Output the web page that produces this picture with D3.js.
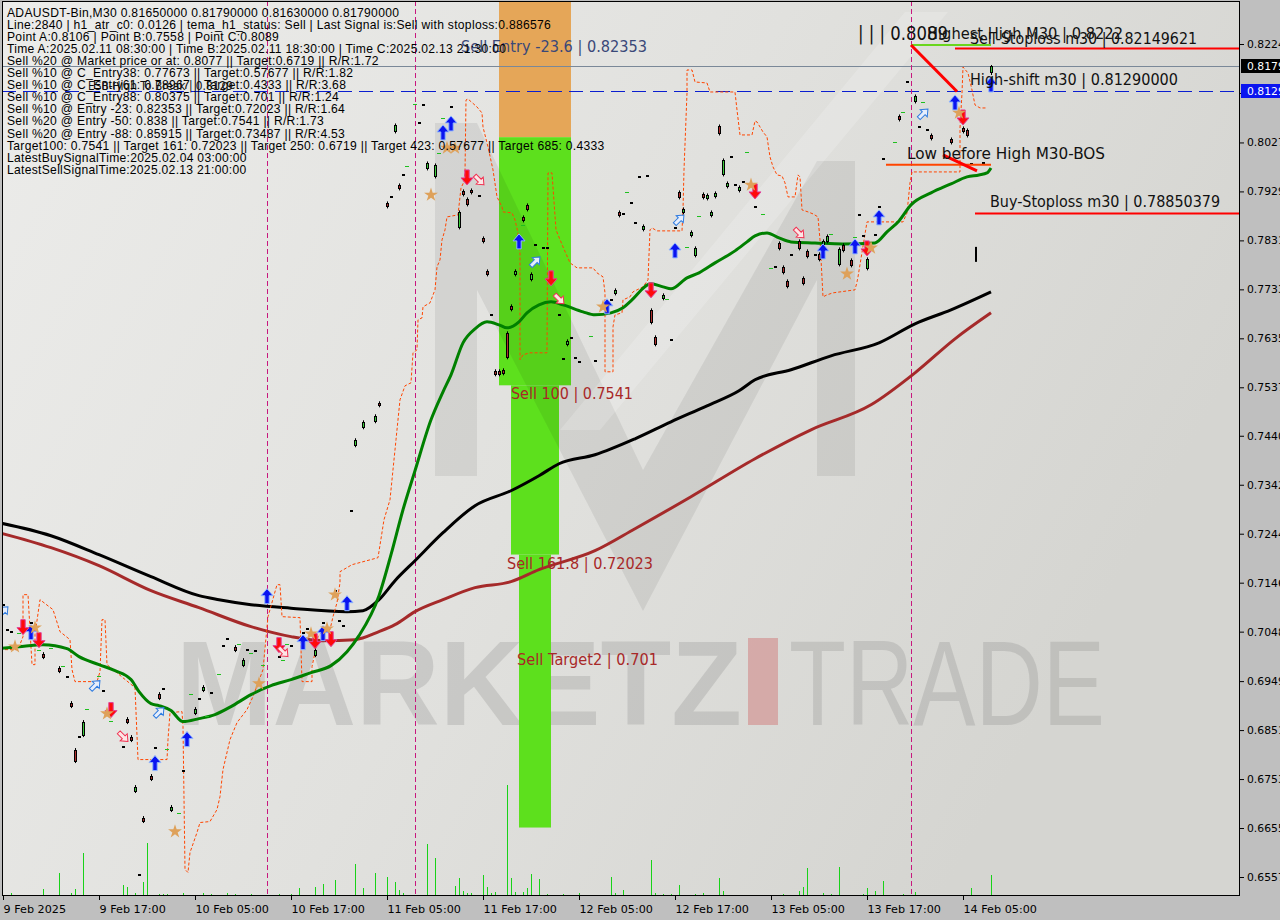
<!DOCTYPE html>
<html><head><meta charset="utf-8">
<script src="https://cdn.jsdelivr.net/npm/d3@7"></script>
<style>body{margin:0;background:#bfbfbf;overflow:hidden}svg{display:block}</style>
</head><body><svg id="c" width="1280" height="920"></svg>
<script>
// ---------------- DATA ----------------
const headerLines = [
 "ADAUSDT-Bin,M30  0.81650000 0.81790000 0.81630000 0.81790000",
 "Line:2840 | h1_atr_c0: 0.0126 | tema_h1_status: Sell | Last Signal is:Sell with stoploss:0.886576",
 "Point A:0.8106 | Point B:0.7558 | Point C:0.8089",
 "Time A:2025.02.11 08:30:00 | Time B:2025.02.11 18:30:00 | Time C:2025.02.13 21:30:00",
 "Sell %20 @ Market price or at: 0.8077 || Target:0.6719 || R/R:1.72",
 "Sell %10 @ C_Entry38: 0.77673 || Target:0.57677 || R/R:1.82",
 "Sell %10 @ C_Entry61: 0.78967 || Target:0.4333 || R/R:3.68",
 "Sell %10 @ C_Entry88: 0.80375 || Target:0.701 || R/R:1.24",
 "Sell %10 @ Entry -23: 0.82353 || Target:0.72023 || R/R:1.64",
 "Sell %20 @ Entry -50: 0.838 || Target:0.7541 || R/R:1.73",
 "Sell %20 @ Entry -88: 0.85915 || Target:0.73487 || R/R:4.53",
 "Target100: 0.7541 || Target 161: 0.72023 || Target 250: 0.6719 || Target 423: 0.57677 || Target 685: 0.4333",
 "LatestBuySignalTime:2025.02.04 03:00:00",
 "LatestSellSignalTime:2025.02.13 21:00:00"
];
const priceTicks = [0.8224,0.8126,0.8027,0.7929,0.7831,0.7733,0.7635,0.7537,0.7440,0.7342,0.7244,0.7146,0.7048,0.6949,0.6851,0.6753,0.6655,0.6557];
const timeTickBars = [0,24,48,72,96,120,144,168,192,216,240];
const timeTickLabels = ["9 Feb 2025","9 Feb 17:00","10 Feb 05:00","10 Feb 17:00","11 Feb 05:00","11 Feb 17:00","12 Feb 05:00","12 Feb 17:00","13 Feb 05:00","13 Feb 17:00","14 Feb 05:00"];

// candles (bar index = 30-min bars since 9 Feb 05:00)
const candleBar = [0,1,2,7,10,14,16,17,18,19,20,25,30,31,32,33,34,35,37,38,39,40,42,45,48,49,50,52,55,56,58,60,61,63,69,72,75,76,78,80,83,84,85,87,88,90,93,94,96,97,98,99,100,104,105,106,108,112,114,115,116,117,119,120,121,122,123,124,125,126,127,128,130,131,132,133,135,136,139,140,141,142,143,144,148,152,153,154,155,157,158,159,160,161,162,163,165,167,168,169,170,172,173,175,176,177,178,179,180,181,182,183,184,185,188,193,194,195,196,197,199,200,201,203,204,205,206,209,210,212,214,215,216,218,219,220,224,226,228,229,231,232,237,240,241,242,245,247];
const candleOpen = [0.7104,0.7054,0.7050,0.7068,0.7004,0.6976,0.6960,0.6906,0.6812,0.6840,0.6840,0.6932,0.6820,0.6874,0.6838,0.6728,0.6564,0.6676,0.6760,0.6818,0.6924,0.6936,0.6690,0.6772,0.6884,0.6916,0.6930,0.6928,0.7022,0.7036,0.7018,0.6980,0.7014,0.7012,0.7000,0.7022,0.7048,0.7056,0.7000,0.7068,0.7132,0.7072,0.7062,0.7292,0.7420,0.7456,0.7468,0.7506,0.7906,0.7920,0.8048,0.7942,0.7964,0.8068,0.8104,0.7974,0.7958,0.8100,0.7856,0.7930,0.7914,0.7932,0.7922,0.7836,0.7770,0.7684,0.7570,0.7570,0.7572,0.7646,0.7700,0.7762,0.7878,0.7902,0.7752,0.7824,0.7818,0.7818,0.7684,0.7596,0.7622,0.7638,0.7598,0.7590,0.7592,0.7714,0.7724,0.7888,0.7886,0.7908,0.7868,0.7960,0.7852,0.7962,0.7692,0.7638,0.7714,0.7634,0.7858,0.7928,0.7886,0.7840,0.7800,0.7924,0.7914,0.7880,0.7918,0.8060,0.7962,0.7938,0.8000,0.7944,0.7930,0.7950,0.7900,0.7780,0.7826,0.7778,0.7750,0.7804,0.7830,0.7756,0.7810,0.7804,0.7804,0.7822,0.7828,0.7782,0.7822,0.7792,0.7884,0.7842,0.7774,0.7844,0.7900,0.7996,0.8080,0.8150,0.8108,0.8060,0.8054,0.8042,0.8034,0.8056,0.8052,0.7986,0.7988,0.8165];
const candleClose = [0.7100,0.7050,0.7046,0.7064,0.6996,0.6968,0.6956,0.6898,0.6788,0.6836,0.6868,0.6928,0.6816,0.6866,0.6830,0.6738,0.6560,0.6668,0.6752,0.6814,0.6914,0.6932,0.6698,0.6768,0.6894,0.6912,0.6938,0.6924,0.7018,0.7032,0.7010,0.6992,0.7010,0.7008,0.6996,0.7018,0.7044,0.7052,0.7012,0.7064,0.7128,0.7068,0.7058,0.7288,0.7432,0.7468,0.7480,0.7500,0.7898,0.7916,0.8062,0.7934,0.7960,0.8064,0.8100,0.7986,0.7982,0.8096,0.7888,0.7922,0.7902,0.7926,0.7918,0.7828,0.7762,0.7680,0.7562,0.7562,0.7564,0.7596,0.7692,0.7770,0.7870,0.7892,0.7764,0.7820,0.7814,0.7814,0.7680,0.7592,0.7630,0.7634,0.7594,0.7586,0.7588,0.7710,0.7732,0.7880,0.7882,0.7904,0.7864,0.7956,0.7860,0.7958,0.7666,0.7622,0.7722,0.7630,0.7854,0.7916,0.7894,0.7848,0.7816,0.7916,0.7922,0.7888,0.7926,0.8044,0.7992,0.7946,0.7996,0.7940,0.7938,0.7946,0.7896,0.7776,0.7814,0.7766,0.7738,0.7800,0.7814,0.7744,0.7798,0.7800,0.7792,0.7830,0.7840,0.7814,0.7810,0.7780,0.7880,0.7838,0.7794,0.7840,0.7896,0.7992,0.8072,0.8146,0.8120,0.8056,0.8050,0.8034,0.8026,0.8048,0.8040,0.7982,0.7984,0.8179];
const spikeBar = [243], spikeHigh = [0.7818], spikeLow = [0.7788];

// volumes
const volBar = [2,10,14,17,18,20,22,30,31,33,35,36,39,40,41,45,50,52,56,58,62,69,72,74,78,80,83,88,90,93,96,98,99,100,106,108,113,114,115,116,117,120,121,122,123,126,127,128,130,131,132,134,136,140,144,152,153,155,162,163,165,167,169,173,175,179,180,191,195,199,200,201,205,207,209,215,216,218,220,223,225,228,232,242,247];
const volValue = [27,70,230,33,70,430,15,110,90,30,140,530,20,20,20,30,30,20,30,20,20,20,20,83,93,120,160,320,83,227,193,143,60,33,520,380,100,177,53,33,33,210,87,33,40,1110,177,40,40,77,220,167,20,20,33,193,33,60,360,33,20,20,110,20,33,177,47,10,20,47,90,280,33,20,293,20,80,50,150,13,20,40,10,80,210];

// moving averages
const blackBar = [-1,12,24,37,49,54,62,72,86,90,94,98,103,110,118,127,134,139,148,158,167,176,184,188,197,207,219,228,237,247];
const blackVal = [0.7266,0.7240,0.7202,0.7158,0.7120,0.7112,0.7102,0.7095,0.7088,0.7090,0.7112,0.7150,0.7190,0.7246,0.7300,0.7330,0.7360,0.7384,0.7402,0.7434,0.7468,0.7500,0.7530,0.7552,0.7572,0.7600,0.7626,0.7664,0.7692,0.7728];
const redBar = [-1,12,24,37,49,62,72,80,88,94,98,103,110,118,127,134,148,158,172,188,202,217,228,238,247];
const redVal = [0.7246,0.7216,0.7180,0.7130,0.7096,0.7058,0.7038,0.7030,0.7032,0.7048,0.7062,0.7088,0.7112,0.7136,0.7148,0.7172,0.7210,0.7254,0.7318,0.7394,0.7452,0.7502,0.7566,0.7634,0.7686];
const greenBar = [-1,4,10,16,19,24,28,32,34,37,39,42,45,49,53,57,62,67,72,77,82,86,89,94,97,100,103,107,110,112,115,118,121,124,126,129,131,134,137,140,145,148,152,155,157,162,165,167,171,174,178,183,186,188,191,194,197,203,210,218,221,224,227,232,237,241,244,246,247];
const greenVal = [0.7014,0.7018,0.7022,0.7014,0.6998,0.6982,0.6970,0.6952,0.6928,0.6904,0.6900,0.6890,0.6868,0.6874,0.6882,0.6898,0.6922,0.6940,0.6952,0.6966,0.6980,0.7008,0.7040,0.7120,0.7202,0.7292,0.7370,0.7472,0.7528,0.7562,0.7626,0.7654,0.7668,0.7662,0.7656,0.7668,0.7686,0.7702,0.7708,0.7702,0.7688,0.7682,0.7686,0.7696,0.7710,0.7744,0.7738,0.7734,0.7756,0.7766,0.7786,0.7810,0.7828,0.7840,0.7846,0.7836,0.7828,0.7826,0.7824,0.7826,0.7848,0.7870,0.7902,0.7926,0.7944,0.7958,0.7962,0.7966,0.7976];

// trailing (orange dashed) line
const orBar = [-0.75,3.75,5,5,6.25,7.25,8,8,9.25,12.5,14.25,16.75,17.25,18,23.5,24.25,24.75,25.5,26,33,33.75,41,41.25,41.75,44.75,45,45.5,46.25,46.75,48.5,49.25,51.75,53.5,54.25,55,56.75,58.5,61,62.5,65,66.25,68.5,69.25,69.75,74.25,74.75,77.25,77.25,78,78.75,79.75,81.75,82.5,83.5,84.25,84.25,87.25,93.75,95.25,96.75,98.25,99.25,100.5,102,102.5,103.5,103.75,104.75,105,106.75,108,108.5,109.25,109.75,110.5,111,113.75,114.5,115,115.5,115.75,116.25,118.5,119.75,120,121.25,122.5,123.5,124.75,125,127.25,128,128.75,129.25,129.25,130,131.75,136,136.25,137.25,138.25,140,141.75,143.5,147.5,148.5,150,150.5,150.5,152.5,152.5,153,154.75,155,156.75,157.5,160,161.25,161.75,162.25,163.5,169.75,170,170.25,171,171,172.25,173,176,176.75,183,183.5,184.25,187.25,188,188.5,190,191,191.75,192.5,193.5,194.75,195.5,196.25,198,198.75,199.25,199.75,201.25,202.5,203.75,204.25,205,206,207.5,213,213.5,213.75,216,225,226,226.75,227.25,239.25,239.25,239.75,240,241.25,242.25,243,244.25,246];
const orVal = [0.7012,0.7012,0.7038,0.7122,0.7122,0.6982,0.6982,0.7042,0.7112,0.7092,0.7048,0.7032,0.6972,0.6948,0.6948,0.6968,0.7072,0.7072,0.6982,0.6936,0.6792,0.6792,0.6832,0.6886,0.6888,0.6858,0.6572,0.6566,0.6606,0.6646,0.6666,0.6668,0.6692,0.6718,0.6772,0.6832,0.6866,0.6892,0.6918,0.6972,0.7078,0.7142,0.7142,0.7078,0.7076,0.6948,0.6948,0.6978,0.7006,0.7038,0.7048,0.7052,0.7078,0.7106,0.7146,0.7168,0.7182,0.7196,0.7272,0.7312,0.7432,0.7512,0.7540,0.7546,0.7606,0.7612,0.7672,0.7676,0.7698,0.7706,0.7732,0.7778,0.7792,0.7832,0.7852,0.7878,0.7882,0.7936,0.7944,0.7966,0.8112,0.8114,0.8098,0.8086,0.8058,0.8018,0.7972,0.7918,0.7898,0.7888,0.7886,0.7872,0.7846,0.7806,0.7592,0.7602,0.7606,0.7606,0.7966,0.7966,0.7852,0.7818,0.7786,0.7776,0.7776,0.7766,0.7758,0.7726,0.7568,0.7568,0.7658,0.7682,0.7686,0.7712,0.7718,0.7728,0.7738,0.7752,0.7852,0.7856,0.7850,0.7850,0.7892,0.7972,0.8126,0.8172,0.8172,0.8148,0.8146,0.8128,0.8128,0.8092,0.8042,0.8042,0.8070,0.8068,0.8048,0.8038,0.7998,0.7978,0.7962,0.7960,0.7946,0.7918,0.7918,0.7962,0.7958,0.7892,0.7888,0.7884,0.7878,0.7832,0.7718,0.7722,0.7726,0.7732,0.7748,0.7758,0.7868,0.7868,0.7886,0.7946,0.7968,0.7968,0.8056,0.8126,0.8178,0.8166,0.8132,0.8102,0.8096,0.8096];

// signal markers
const blueUpBar = [7,38,46,66,75,80,86,110,112,129,151,168,205,213,219,238,247];
const blueUpPrice = [0.7046,0.6784,0.6832,0.7118,0.7026,0.7044,0.7104,0.8046,0.8064,0.7828,0.7698,0.7810,0.7808,0.7818,0.7876,0.8106,0.8142];
const redDnBar = [5,9,27,69,78,82,116,137,162,188,216,240];
const redDnPrice = [0.7058,0.7032,0.6892,0.7022,0.7030,0.7034,0.7958,0.7756,0.7732,0.7930,0.7816,0.8078];
const hollowUpBar = [0,23,39,133,169,230];
const hollowUpPrice = [0.7088,0.6940,0.6886,0.7788,0.7872,0.8084];
const hollowDnBar = [30,70,119,139,199];
const hollowDnPrice = [0.6838,0.7008,0.7952,0.7714,0.7846];
const starBar = [3,8,26,43,64,77,81,83,107,111,113,150,187,211,217,239];
const starPrice = [0.7018,0.7056,0.6884,0.6648,0.6944,0.7044,0.7054,0.7122,0.7922,0.8016,0.8016,0.7698,0.7942,0.7764,0.7816,0.8086];
const tickBar = [4,9,12,15,21,24,27,47,51,54,59,62,65,71,70,41,44,103,110,101,109,147,156,130,186,190,174,171,207,213,192,166,230,225,223];
const tickPrice = [0.7046,0.7012,0.7016,0.6980,0.6894,0.6960,0.6870,0.6924,0.6880,0.6964,0.7024,0.7006,0.6982,0.7024,0.6992,0.6814,0.6686,0.8104,0.8076,0.7980,0.8006,0.7640,0.7928,0.7862,0.8008,0.7884,0.7880,0.7818,0.7844,0.7838,0.7776,0.7714,0.8108,0.8088,0.8028];

// target zones
const zoneBar0 = [124,124,127,129];
const zoneBar1 = [142,142,139,137];
const zoneHigh = [0.838,0.80375,0.7541,0.72023];
const zoneLow  = [0.80375,0.7541,0.72023,0.6656];
const zoneColor = ["#e5a658","#5de01d","#5de01d","#5de01d"];
const zoneText = ["Sell Entry -23.6 | 0.82353","Sell 100 | 0.7541","Sell 161.8 | 0.72023","Sell Target2 | 0.701"];
const zoneTextBar = [114.5,127,126,128.5];
const zoneTextPrice = [0.82353,0.7541,0.72023,0.701];
const zoneTextColor = ["#3a4878","#a82828","#a82828","#a82828"];
const zoneTextLen = [186,122,146,141];

// levels / structure
const currentPrice = 0.8179, esbPrice = 0.8129;
const vlineBars = [66,103,227];
const highestHigh = 0.8222, lowBeforeHigh = 0.79825;
const sellStop = 0.82149621, buyStop = 0.78850379;
const zigBar = [227,238.5], zigPrice = [0.8222,0.8129];
const zig2Bar = [235,243.5], zig2Price = [0.8002,0.7970];

// ---------------- CHART ----------------
const W = 1280, H = 920, L = 2, T = 1, R = 1240, B = 896;
const t0 = Date.UTC(2025,1,9,5,0);
const barTime = b => new Date(t0 + b*1800000);
const x = d3.scaleUtc().domain([barTime(0), barTime(309.25)]).range([3, R]);
const X = b => x(barTime(b));
const y = d3.scaleLinear().domain([0.6557, 0.8224]).range([877, 44]);
const vy = d3.scaleLinear().domain([0, 1000]).range([B, B - 100]);
const FONT = "DejaVu Sans, Verdana, sans-serif";
const HFONT = "Liberation Sans, Arial, sans-serif";

const svg = d3.select("#c");
const defs = svg.append("defs");
const g1 = defs.append("linearGradient").attr("id","bg").attr("x1",0).attr("y1",0).attr("x2",1).attr("y2",0.4);
g1.append("stop").attr("offset",0).attr("stop-color","#ececea");
g1.append("stop").attr("offset",0.55).attr("stop-color","#e1e1de");
g1.append("stop").attr("offset",1).attr("stop-color","#d5d5d1");
defs.append("clipPath").attr("id","clip").append("rect").attr("x",L).attr("y",T).attr("width",R-L).attr("height",B-T);

svg.append("rect").attr("width",W).attr("height",H).attr("fill","#bfbfbf");
svg.append("rect").attr("x",L).attr("y",T).attr("width",R-L).attr("height",B-T).attr("fill","url(#bg)");
const plot = svg.append("g").attr("clip-path","url(#clip)");

// watermark text
plot.append("text").attr("x",176).attr("y",725).attr("font-family","Liberation Sans, Arial").attr("font-weight","bold")
  .attr("font-size",121).attr("textLength",566).attr("lengthAdjust","spacingAndGlyphs").attr("fill","#6e6e6e").attr("opacity",0.2).text("MARKETZ");
plot.append("rect").attr("x",748).attr("y",638).attr("width",30).attr("height",87).attr("fill","#d07a7a").attr("opacity",0.5);
plot.append("text").attr("x",789).attr("y",725).attr("font-family","Liberation Sans, Arial")
  .attr("font-size",121).attr("textLength",316).attr("lengthAdjust","spacingAndGlyphs").attr("fill","#6e6e6e").attr("opacity",0.2).text("TRADE");

// volumes
plot.append("g").attr("shape-rendering","crispEdges").selectAll("rect").data(volBar).join("rect")
  .attr("x",(d)=>Math.round(X(d))).attr("width",1)
  .attr("y",(d,i)=>Math.round(vy(volValue[i]))).attr("height",(d,i)=>B-Math.round(vy(volValue[i])))
  .attr("fill","#19d219");

// zones
plot.append("g").selectAll("rect").data(zoneBar0).join("rect")
  .attr("x",(d)=>X(d)).attr("width",(d,i)=>X(zoneBar1[i])-X(d))
  .attr("y",(d,i)=>y(zoneHigh[i])).attr("height",(d,i)=>y(zoneLow[i])-y(zoneHigh[i]))
  .attr("fill",(d,i)=>zoneColor[i]);

// logo overlay (watermark M)
plot.append("path").attr("d","M435,476 L435,123 L477,123 L643,470 L817,161 L855,161 L855,476 L817,476 L817,280 L643,611 L477,290 L477,476 Z")
  .attr("fill","#000").attr("opacity",0.07);
plot.append("path").attr("d","M905,12 L948,12 L600,430 L560,430 Z").attr("fill","#fff").attr("opacity",0.18);

// horizontal price lines
plot.append("line").attr("x1",L).attr("x2",R).attr("y1",Math.round(y(currentPrice))+0.5).attr("y2",Math.round(y(currentPrice))+0.5).attr("stroke","#7a8898").attr("stroke-width",1);
plot.append("line").attr("x1",L).attr("x2",R).attr("y1",Math.round(y(esbPrice))+0.5).attr("y2",Math.round(y(esbPrice))+0.5).attr("stroke","#0a1ed0").attr("stroke-width",1.2).attr("stroke-dasharray","14,7");

// vertical dashed time lines
plot.append("g").selectAll("line").data(vlineBars).join("line")
  .attr("x1",d=>Math.round(X(d))+0.5).attr("x2",d=>Math.round(X(d))+0.5).attr("y1",T).attr("y2",B)
  .attr("stroke","#c8177e").attr("stroke-width",1).attr("stroke-dasharray","5,3");

// lines
const lineGen = d3.line().x(d=>X(d[0])).y(d=>y(d[1])).curve(d3.curveMonotoneX);
const zip = (a,b)=>a.map((v,i)=>[v,b[i]]);
plot.append("path").datum(zip(redBar,redVal)).attr("d",lineGen).attr("fill","none").attr("stroke","#a52a2a").attr("stroke-width",3);
plot.append("path").datum(zip(blackBar,blackVal)).attr("d",lineGen).attr("fill","none").attr("stroke","#000").attr("stroke-width",3);
plot.append("path").datum(zip(orBar,orVal)).attr("d",d3.line().x(d=>X(d[0])).y(d=>y(d[1]))).attr("fill","none").attr("stroke","#ff4500").attr("stroke-width",1).attr("stroke-dasharray","3,2");
plot.append("path").datum(zip(greenBar,greenVal)).attr("d",lineGen).attr("fill","none").attr("stroke","#008000").attr("stroke-width",3);

// small green ticks
plot.append("g").selectAll("rect").data(tickBar).join("rect")
  .attr("x",d=>Math.round(X(d))-2).attr("y",(d,i)=>Math.round(y(tickPrice[i]))).attr("width",4).attr("height",1).attr("fill","#1fc01f");

// candles
const cg = plot.append("g");
candleBar.forEach((b,i)=>{
  const cx = Math.round(X(b));
  const o = candleOpen[i], c = candleClose[i];
  const yt = y(Math.max(o,c)), yb = y(Math.min(o,c));
  if (yb - yt < 2.6) {
    cg.append("rect").attr("x",cx-1).attr("y",Math.round(yt)).attr("width",3).attr("height",2).attr("fill","#000");
  } else {
    cg.append("line").attr("x1",cx+0.5).attr("x2",cx+0.5).attr("y1",yt-1.5).attr("y2",yb+1.5).attr("stroke","#000");
    cg.append("rect").attr("x",cx-0.5).attr("y",Math.round(yt)+0.5).attr("width",2).attr("height",Math.max(1,Math.round(yb-yt)-1))
      .attr("fill",c>o?"#3ccc3c":"#b03030").attr("stroke","#000").attr("stroke-width",1);
  }
});
spikeBar.forEach((b,i)=>{
  cg.append("rect").attr("x",Math.round(X(b))).attr("y",y(spikeHigh[i])).attr("width",2).attr("height",y(spikeLow[i])-y(spikeHigh[i])).attr("fill","#000");
});

// arrows
const upArrow = "M0,-8 L6,-1 L2.2,-1 L2.2,7 L-2.2,7 L-2.2,-1 L-6,-1 Z";
plot.append("g").selectAll("path").data(blueUpBar).join("path")
  .attr("d",upArrow).attr("transform",(d,i)=>`translate(${X(d)},${y(blueUpPrice[i])})`)
  .attr("fill","#0a14f0").attr("stroke","#8fb6ff").attr("stroke-width",1);
plot.append("g").selectAll("path").data(redDnBar).join("path")
  .attr("d",upArrow).attr("transform",(d,i)=>`translate(${X(d)},${y(redDnPrice[i])}) rotate(180)`)
  .attr("fill","#ff0a0a").attr("stroke","#e0409a").attr("stroke-width",1);
const hollow = "M0,-7 L5,-1 L2,-1 L2,6 L-2,6 L-2,-1 L-5,-1 Z";
plot.append("g").selectAll("path").data(hollowUpBar).join("path")
  .attr("d",hollow).attr("transform",(d,i)=>`translate(${X(d)},${y(hollowUpPrice[i])}) rotate(45)`)
  .attr("fill","#e6eefc").attr("stroke","#2e7be0").attr("stroke-width",1);
plot.append("g").selectAll("path").data(hollowDnBar).join("path")
  .attr("d",hollow).attr("transform",(d,i)=>`translate(${X(d)},${y(hollowDnPrice[i])}) rotate(135)`)
  .attr("fill","#fde6e6").attr("stroke","#f03050").attr("stroke-width",1);
plot.append("g").selectAll("path").data(starBar).join("path")
  .attr("d",d3.symbol(d3.symbolStar,60)).attr("transform",(d,i)=>`translate(${X(d)},${y(starPrice[i])})`)
  .attr("fill","#dea15a");

// structure lines
const seg = (x1,y1,x2,y2,col,w)=>plot.append("line").attr("x1",x1).attr("y1",y1).attr("x2",x2).attr("y2",y2).attr("stroke",col).attr("stroke-width",w);
seg(X(227),y(highestHigh),X(247),y(highestHigh),"#6ad61e",2);
seg(X(220.75),y(lowBeforeHigh),X(247),y(lowBeforeHigh),"#ff4500",2);
seg(X(238),y(sellStop),R,y(sellStop),"#ff0000",2);
seg(X(243),y(buyStop),R,y(buyStop),"#ff0000",2);
seg(X(zigBar[0]),y(zigPrice[0]),X(zigBar[1]),y(zigPrice[1]),"#ff0000",3);
seg(X(zig2Bar[0]),y(zig2Price[0]),X(zig2Bar[1]),y(zig2Price[1]),"#ff0000",3);

// zone labels
plot.append("g").selectAll("text").data(zoneText).join("text")
  .attr("x",(d,i)=>X(zoneTextBar[i])).attr("y",(d,i)=>y(zoneTextPrice[i])+14)
  .attr("font-family",FONT).attr("font-size",16).attr("fill",(d,i)=>zoneTextColor[i])
  .attr("textLength",(d,i)=>zoneTextLen[i]).attr("lengthAdjust","spacingAndGlyphs").text(d=>d);

// structure labels
const lab = (t,bx,p,dy,len,fs)=>plot.append("text").attr("x",X(bx)).attr("y",y(p)+dy).attr("font-family",FONT).attr("font-size",fs||16)
  .attr("fill","#111").attr("textLength",len).attr("lengthAdjust","spacingAndGlyphs").text(t);
lab("Highest High   M30 | 0.8222",231,highestHigh,-6,196,16);
lab("Sell-Stoploss m30 | 0.82149621",241.75,sellStop,-4.5,227,16);
lab("| | | 0.8089",213.75,highestHigh,-5,90,19);
lab("High-shift m30 | 0.81290000",241.75,esbPrice,-6.5,208,16);
lab("Low before High   M30-BOS",226,lowBeforeHigh,-5.5,198,16);
lab("Buy-Stoploss m30 | 0.78850379",246.75,buyStop,-6,230,16);

// header text
const hg = svg.append("g");
headerLines.forEach((t,i)=>hg.append("text").attr("x",7).attr("y",17+i*12.05).attr("font-family",HFONT).attr("font-size",12.1).attr("letter-spacing",0.3).attr("fill","#000").text(t));
hg.append("text").attr("x",88).attr("y",90).attr("font-family",FONT).attr("font-size",12).attr("fill","#111").attr("textLength",145).attr("lengthAdjust","spacingAndGlyphs").text("ESB-High To Break | 0.8129");

// frame
svg.append("rect").attr("x",L+0.5).attr("y",T+0.5).attr("width",R-L-1).attr("height",B-T-1).attr("fill","none").attr("stroke","#000");

// axes
const ya = d3.axisRight(y).tickValues(priceTicks).tickFormat(d3.format(".4f")).tickSize(4).tickPadding(3);
const yg = svg.append("g").attr("transform",`translate(${R},0)`).call(ya);
yg.select(".domain").remove();
yg.selectAll("text").attr("font-family",FONT).attr("font-size",10.8).attr("fill","#000");
yg.selectAll("line").attr("stroke","#000");

const xa = d3.axisBottom(x).tickValues(timeTickBars.map(barTime)).tickFormat((d,i)=>timeTickLabels[i]).tickSize(4).tickPadding(3);
const xg = svg.append("g").attr("transform",`translate(0,${B})`).call(xa);
xg.select(".domain").remove();
xg.selectAll("text").attr("font-family",FONT).attr("font-size",11.2).attr("fill","#000").attr("text-anchor","start").attr("dy","0.9em");
xg.selectAll("line").attr("stroke","#000");

// price tags
const tag = (p,bg,fg)=>{
  const yy = Math.round(y(p));
  svg.append("rect").attr("x",R+1).attr("y",yy-7).attr("width",W-R).attr("height",14).attr("fill",bg);
  svg.append("text").attr("x",R+7).attr("y",yy+4).attr("font-family",FONT).attr("font-size",10.8).attr("fill",fg).text(d3.format(".4f")(p));
};
tag(currentPrice,"#000","#fff");
tag(esbPrice,"#0a14f0","#fff");
</script></body></html>
